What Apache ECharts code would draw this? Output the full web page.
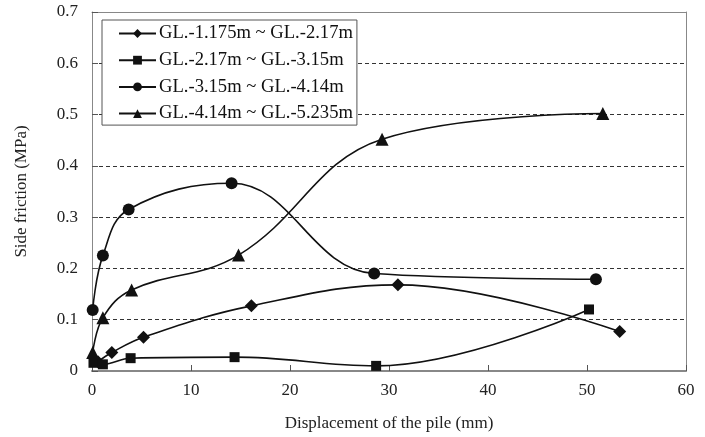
<!DOCTYPE html>
<html>
<head>
<meta charset="utf-8">
<script src="https://cdn.jsdelivr.net/npm/echarts@6/dist/echarts.min.js"></script>
<style>
  html, body { margin: 0; padding: 0; background: #fff; }
  #main { width: 705px; height: 437px; }
</style>
</head>
<body>
<div id="main"></div>
<script>
    // data: displacement (mm) and side friction (MPa)
    var seriesNames = ['GL.-1.175m ~ GL.-2.17m', 'GL.-2.17m ~ GL.-3.15m', 'GL.-3.15m ~ GL.-4.14m', 'GL.-4.14m ~ GL.-5.235m'];
    var seriesSymbols = ['diamond', 'rect', 'circle', 'triangle'];

    var dispA = [0.6, 2.0, 5.2, 16.1, 30.9, 53.3];
    var fricA = [0.018, 0.036, 0.066, 0.127, 0.168, 0.077];

    var dispB = [0.15, 1.1, 3.9, 14.4, 28.7, 50.2];
    var fricB = [0.016, 0.013, 0.025, 0.027, 0.010, 0.120];

    var dispC = [0.07, 1.1, 3.7, 14.1, 28.5, 50.9];
    var fricC = [0.119, 0.225, 0.315, 0.366, 0.190, 0.179];

    var dispD = [0.07, 1.1, 4.0, 14.8, 29.3, 51.6];
    var fricD = [0.036, 0.104, 0.158, 0.226, 0.452, 0.502];

    var xTicks = [0, 10, 20, 30, 40, 50, 60];
    var yTicks = [0, 0.1, 0.2, 0.3, 0.4, 0.5, 0.6, 0.7];

    function zip(xs, ys) {
        return xs.map(function (x, i) { return [x, ys[i]]; });
    }

    var chartDom = document.getElementById('main');
    var myChart = echarts.init(chartDom);
    var font = 'Liberation Serif';
    var symSizes = [13, 10, 12, 13];

    var allData = [zip(dispA, fricA), zip(dispB, fricB), zip(dispC, fricC), zip(dispD, fricD)];

    var option = {
        animation: false,
        backgroundColor: '#fff',
        grid: {
            left: 92,
            right: 19,
            top: 12,
            bottom: 66
        },
        legend: {
            orient: 'vertical',
            left: 102,
            top: 20,
            data: seriesNames,
            itemWidth: 37,
            itemHeight: 11,
            itemGap: 7.7,
            padding: [4, 4, 2, 16],
            borderColor: '#555',
            borderWidth: 1,
            backgroundColor: '#fff',
            textStyle: { fontFamily: font, fontSize: 18.6, color: '#111', padding: [0, 0, 0, -2] }
        },
        xAxis: [{
            type: 'value',
            min: xTicks[0],
            max: xTicks[xTicks.length - 1],
            interval: 10,
            name: 'Displacement of the pile (mm)',
            nameLocation: 'middle',
            nameGap: 44,
            nameTextStyle: { fontFamily: font, fontSize: 17, color: '#222' },
            axisLine: { lineStyle: { color: '#888', width: 2 } },
            axisTick: { inside: true, length: 6, lineStyle: { color: '#555' } },
            axisLabel: { fontFamily: font, fontSize: 17, color: '#222', margin: 11 },
            splitLine: { show: false }
        }, {
            type: 'value',
            position: 'top',
            min: 0, max: 60,
            axisLine: { show: true, onZero: false, lineStyle: { color: '#888', width: 1 } },
            axisTick: { show: false },
            axisLabel: { show: false },
            splitLine: { show: false }
        }],
        yAxis: [{
            type: 'value',
            min: yTicks[0],
            max: yTicks[yTicks.length - 1],
            interval: 0.1,
            name: 'Side friction (MPa)',
            nameLocation: 'middle',
            nameGap: 62,
            nameTextStyle: { fontFamily: font, fontSize: 17, color: '#222' },
            axisLine: { show: true, lineStyle: { color: '#888', width: 1 } },
            axisTick: { show: true, inside: true, length: 6, lineStyle: { color: '#555' } },
            axisLabel: { fontFamily: font, fontSize: 17, color: '#222', margin: 14 },
            splitLine: { show: true, lineStyle: { color: '#333', type: [4, 3], width: 1 } }
        }, {
            type: 'value',
            position: 'right',
            min: 0, max: 0.7,
            axisLine: { show: true, onZero: false, lineStyle: { color: '#888', width: 1 } },
            axisTick: { show: false },
            axisLabel: { show: false },
            splitLine: { show: false }
        }],
        series: seriesNames.map(function (name, i) {
            return {
                name: name,
                type: 'line',
                smooth: 0.4,
                symbol: seriesSymbols[i],
                symbolSize: symSizes[i],
                showAllSymbol: true,
                color: '#111',
                lineStyle: { color: '#111', width: 1.6 },
                itemStyle: { color: '#111' },
                data: allData[i],
                z: 5
            };
        })
    };

    myChart.setOption(option);
</script>
</body>
</html>
